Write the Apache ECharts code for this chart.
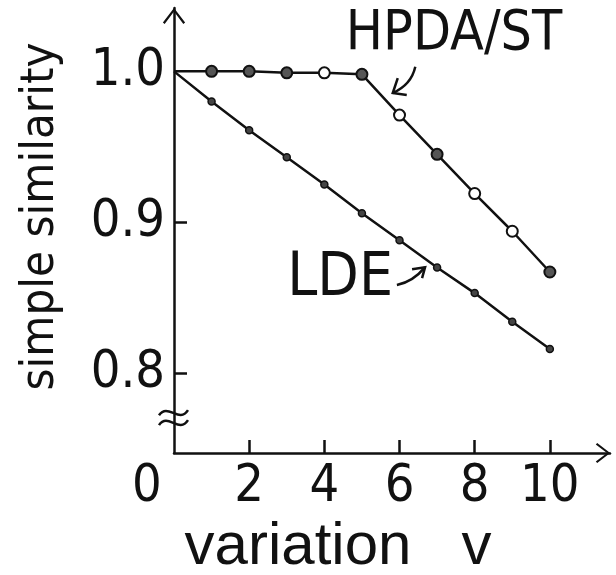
<!DOCTYPE html>
<html>
<head>
<meta charset="utf-8">
<script src="https://cdn.jsdelivr.net/npm/echarts@6/dist/echarts.min.js"></script>
<style>
  html, body { margin: 0; padding: 0; background: #fff; }
  #chart { width: 616px; height: 575px; }
</style>
</head>
<body>
<div id="chart"></div>
<script>
// Simple similarity against variation v for the two methods
const variation = [0, 1, 2, 3, 4, 5, 6, 7, 8, 9, 10];
const hpdaSt = [1.000, 1.000, 1.000, 0.999, 0.999, 0.998, 0.971, 0.945, 0.919, 0.894, 0.867];
const lde = [1.000, 0.980, 0.961, 0.943, 0.925, 0.906, 0.888, 0.870, 0.853, 0.834, 0.816];
const xTickValues = [0, 2, 4, 6, 8, 10];
const yTickValues = [0.8, 0.9, 1.0];
const hpdaOpenPoints = [4, 6, 8, 9];   // indexes drawn as open circles

const INK = '#111';
const HAND = '"DejaVu Sans Condensed", "DejaVu Sans", sans-serif';
const WIDE = '"Liberation Sans", "DejaVu Sans", sans-serif';
// open chevron used as axis arrow head (tip at top of the path box)
const chevron = 'path://M10,0 L20,13 L18.4,14.4 L10,3.2 L1.6,14.4 L0,13 Z';

const chart = echarts.init(document.getElementById('chart'), null, { renderer: 'canvas' });

function hpdaData() {
  return hpdaSt.map((y, i) => {
    const item = { value: [variation[i], y] };
    if (i === 0) item.symbol = 'none';
    else if (hpdaOpenPoints.indexOf(i) >= 0) item.itemStyle = { color: '#fff' };
    return item;
  });
}
function ldeData() {
  return lde.map((y, i) => {
    const item = { value: [variation[i], y] };
    if (i === 0) item.symbol = 'none';
    return item;
  });
}

chart.setOption({
  animation: false,
  backgroundColor: '#fff',
  grid: { left: 174, top: 8, width: 436, height: 445, containLabel: false, outerBoundsMode: 'none' },
  xAxis: {
    type: 'value',
    min: 0,
    max: 11.6,
    name: 'variation   v',
    nameLocation: 'middle',
    nameGap: 58,
    nameTextStyle: { fontFamily: WIDE, fontSize: 60, color: INK, padding: [0, 108, 0, 0] },
    axisLine: {
      show: true, onZero: false,
      lineStyle: { color: INK, width: 2.5 },
      symbol: ['none', chevron], symbolSize: [20, 15], symbolOffset: [0, -7]
    },
    axisTick: { show: true, inside: true, length: 13, lineStyle: { color: INK, width: 2.5 }, customValues: [2, 4, 6, 8, 10] },
    axisLabel: {
      customValues: xTickValues,
      fontFamily: HAND, fontSize: 52, color: INK, margin: 8,
      formatter: v => v === 0 ? '{o|0}' : String(v),
      rich: { o: { fontFamily: HAND, fontSize: 52, color: INK, padding: [0, 54, 0, 0] } }
    },
    splitLine: { show: false }
  },
  yAxis: {
    type: 'value',
    min: 0.747,
    max: 1.042,
    name: 'simple similarity',
    nameLocation: 'middle',
    nameRotate: 90,
    nameGap: 110,
    nameTextStyle: { fontFamily: HAND, fontSize: 47, color: INK, padding: [0, 0, 0, 28] },
    axisLine: {
      show: true, onZero: false,
      lineStyle: { color: INK, width: 2.5 },
      symbol: ['none', chevron], symbolSize: [24, 16], symbolOffset: [0, -8]
    },
    axisTick: { show: true, inside: true, length: 13, lineStyle: { color: INK, width: 2.5 }, customValues: [0.8, 0.9] },
    axisLabel: {
      customValues: yTickValues,
      fontFamily: HAND, fontSize: 52, color: INK, margin: 9,
      formatter: v => v.toFixed(1)
    },
    splitLine: { show: false }
  },
  series: [
    {
      name: 'HPDA/ST',
      type: 'line',
      data: hpdaData(),
      symbol: 'circle',
      symbolSize: 11,
      lineStyle: { color: INK, width: 2.5 },
      itemStyle: { color: '#555', borderColor: INK, borderWidth: 2 },
      z: 3
    },
    {
      name: 'LDE',
      type: 'line',
      data: ldeData(),
      symbol: 'circle',
      symbolSize: 7,
      lineStyle: { color: INK, width: 2.5 },
      itemStyle: { color: '#444', borderColor: INK, borderWidth: 1.5 },
      z: 3
    }
  ]
});

// Series labels, pointer arrows and the axis break mark, placed in data space
function px(x, y) { return chart.convertToPixel({ gridIndex: 0 }, [x, y]); }
function arrow(start, ctrl, tip, arm1, arm2) {
  return [
    { type: 'bezierCurve', shape: { x1: start[0], y1: start[1], cpx1: ctrl[0], cpy1: ctrl[1], x2: tip[0], y2: tip[1] },
      style: { stroke: INK, lineWidth: 2.5, fill: null } },
    { type: 'polyline', shape: { points: [[tip[0] + arm1[0], tip[1] + arm1[1]], tip, [tip[0] + arm2[0], tip[1] + arm2[1]]] },
      style: { stroke: INK, lineWidth: 2.5, fill: null } }
  ];
}
function tilde(c) {
  return { type: 'bezierCurve',
    shape: { x1: c[0] - 15, y1: c[1] + 2, cpx1: c[0] - 6, cpy1: c[1] - 11, cpx2: c[0] + 5, cpy2: c[1] + 11, x2: c[0] + 14, y2: c[1] - 3 },
    style: { stroke: INK, lineWidth: 2.5, fill: null } };
}

const hpdaLabel = px(7.45, 1.024);
const ldeLabel = px(4.42, 0.862);
const hpdaTip = px(5.82, 0.9856), hpdaStart = px(6.42, 1.003);
const ldeTip = px(6.68, 0.8702), ldeStart = px(5.93, 0.8584);
const brk1 = px(0, 0.7734), brk2 = px(0, 0.7668);

chart.setOption({
  graphic: [
    { type: 'text', x: hpdaLabel[0], y: hpdaLabel[1],
      style: { text: 'HPDA/ST', fontFamily: HAND, fontSize: 55, fill: INK, align: 'center', verticalAlign: 'middle' } },
    { type: 'text', x: ldeLabel[0], y: ldeLabel[1],
      style: { text: 'LDE', fontFamily: HAND, fontSize: 60, fill: INK, align: 'center', verticalAlign: 'middle' } },
    ...arrow(hpdaStart, [hpdaStart[0] - 4, hpdaStart[1] + 18], hpdaTip, [5, -15], [14, 2]),
    ...arrow(ldeStart, [ldeStart[0] + 16, ldeStart[1] - 3], ldeTip, [-13, 2], [-3, 11]),
    { type: 'rect', shape: { x: brk1[0] - 4, y: brk1[1] + 3, width: 8, height: brk2[1] - brk1[1] - 5 }, style: { fill: '#fff' } },
    tilde(brk1),
    tilde(brk2)
  ]
});
</script>
</body>
</html>
